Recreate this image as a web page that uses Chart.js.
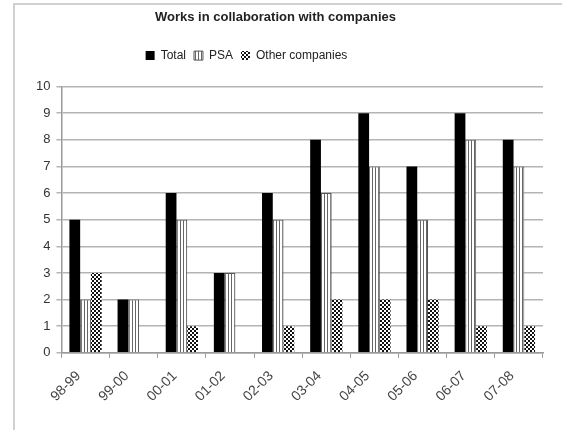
<!DOCTYPE html>
<html>
<head>
<meta charset="utf-8">
<script src="https://cdn.jsdelivr.net/npm/chart.js@4.4.0/dist/chart.umd.min.js"></script>
<style>
  html, body { margin: 0; padding: 0; background: #fff; }
  #wrap { position: relative; width: 562px; height: 430px; }
  #frame { position: absolute; left: 13px; top: 3px; width: 560px; height: 440px;
           border-left: 2px solid #d0d0d0; border-top: 2px solid #d0d0d0; }
  canvas { position: absolute; left: 0; top: 0; }
</style>
</head>
<body>
<div id="wrap">
  <div id="frame"></div>
  <canvas id="chart" width="562" height="430"></canvas>
</div>
<script>
const seasons = ['98-99', '99-00', '00-01', '01-02', '02-03', '03-04', '04-05', '05-06', '06-07', '07-08'];
const totalWorks = [5, 2, 6, 3, 6, 8, 9, 7, 9, 8];
const psaWorks = [2, 2, 5, 3, 5, 6, 7, 5, 8, 7];
const otherWorks = [3, 0, 1, 0, 1, 2, 2, 2, 1, 1];
const yTicks = [0, 1, 2, 3, 4, 5, 6, 7, 8, 9, 10];

// stripes for PSA, checks for the other companies
function makePattern(kind) {
    const c = document.createElement('canvas');
    const g = c.getContext('2d');
    if (kind === 'stripes') {
        c.width = 3; c.height = 3;
        g.fillStyle = '#fff';
        g.fillRect(0, 0, 3, 3);
        g.fillStyle = '#666';
        g.fillRect(0, 0, 1, 3);
    } else {
        c.width = 4; c.height = 4;
        g.fillStyle = '#fff';
        g.fillRect(0, 0, 4, 4);
        g.fillStyle = '#111';
        g.fillRect(0, 0, 2, 2);
        g.fillRect(2, 2, 2, 2);
    }
    return g.createPattern(c, 'repeat');
}

// extra room under the legend, and title/legend sit a bit left of centre
const headerTweak = {
    id: 'headerTweak',
    beforeInit(chart) {
        const fit = chart.legend.fit;
        chart.legend.fit = function () {
            fit.call(this);
            this.height += 15;
        };
    },
    afterLayout(chart) {
        chart.legend.left -= 40;
        chart.legend.right -= 40;
        chart.titleBlock.left -= 11;
        chart.titleBlock.right -= 11;
    }
};

const ctx = document.getElementById('chart').getContext('2d');
new Chart(ctx, {
    type: 'bar',
    data: {
        labels: seasons,
        datasets: [
            { label: 'Total', data: totalWorks, backgroundColor: '#000', borderColor: '#000', borderWidth: 0 },
            { label: 'PSA', data: psaWorks, backgroundColor: makePattern('stripes'), borderColor: '#555', borderWidth: 1 },
            { label: 'Other companies', data: otherWorks, backgroundColor: makePattern('checks'), borderColor: '#333', borderWidth: 0 }
        ]
    },
    plugins: [headerTweak],
    options: {
        responsive: false,
        animation: false,
        layout: { padding: { left: 30, right: 19, top: 0, bottom: 15 } },
        datasets: { bar: { categoryPercentage: 0.67, barPercentage: 1.0 } },
        plugins: {
            title: {
                display: true,
                text: 'Works in collaboration with companies',
                color: '#222',
                font: { family: 'Liberation Sans, Arial', size: 13, weight: 'bold' },
                padding: { top: 10, bottom: 16 }
            },
            legend: {
                labels: {
                    color: '#222',
                    font: { family: 'Liberation Sans, Arial', size: 12 },
                    boxWidth: 9, boxHeight: 9, padding: 8
                }
            },
            tooltip: { enabled: false }
        },
        scales: {
            x: {
                grid: { display: true, drawOnChartArea: false, offset: true, tickLength: 5, color: '#999' },
                border: { color: '#999', width: 1.5 },
                ticks: {
                    color: '#444', minRotation: 45, maxRotation: 45, labelOffset: -7,
                    font: { family: 'Liberation Sans, Arial', size: 14 }, padding: 10
                }
            },
            y: {
                min: 0, max: 10,
                afterBuildTicks: axis => { axis.ticks = yTicks.map(v => ({ value: v })); },
                grid: { color: '#b4b4b4', lineWidth: 1.5, tickLength: 5 },
                border: { color: '#999', width: 1.5 },
                ticks: {
                    color: '#333', padding: 6,
                    font: { family: 'Liberation Sans, Arial', size: 13 }
                }
            }
        }
    }
});
</script>
</body>
</html>
